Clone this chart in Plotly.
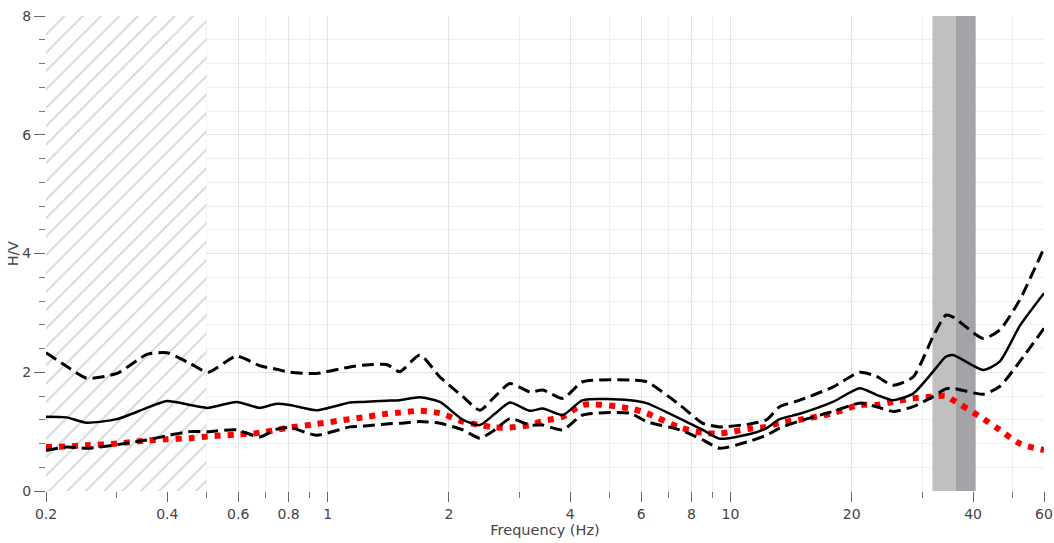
import plotly.graph_objects as go

# ---- data ----
freq = [0.200, 0.225, 0.252, 0.300, 0.356, 0.399, 0.455, 0.505, 0.594, 0.679, 0.747, 0.806,
        0.939, 1.136, 1.224, 1.401, 1.511, 1.694, 1.900, 2.166, 2.387, 2.601, 2.835, 3.177,
        3.422, 3.836, 4.300, 5.626, 6.189, 7.485, 8.539, 9.41, 11.17, 12.29, 13.25, 14.86,
        17.94, 20.94, 23.03, 25.32, 28.39, 31.83, 34.22, 35.68, 42.35, 46.58, 52.24, 60.0]
hv_mean = [1.25, 1.24, 1.15, 1.21, 1.40, 1.515, 1.45, 1.40, 1.50, 1.40, 1.47, 1.45,
           1.36, 1.49, 1.50, 1.52, 1.53, 1.58, 1.50, 1.20, 1.11, 1.30, 1.49, 1.35,
           1.39, 1.28, 1.53, 1.53, 1.48, 1.22, 1.03, 0.88, 0.96, 1.06, 1.21, 1.30,
           1.50, 1.73, 1.62, 1.53, 1.64, 2.01, 2.26, 2.29, 2.04, 2.18, 2.78, 3.33]
hv_upper = [2.33, 2.10, 1.90, 1.98, 2.30, 2.33, 2.15, 2.00, 2.27, 2.11, 2.05, 2.00,
            1.98, 2.09, 2.12, 2.13, 2.01, 2.29, 1.92, 1.59, 1.36, 1.59, 1.81, 1.67,
            1.70, 1.56, 1.84, 1.87, 1.84, 1.45, 1.14, 1.08, 1.13, 1.20, 1.42, 1.53,
            1.75, 2.00, 1.93, 1.78, 1.92, 2.60, 2.96, 2.93, 2.57, 2.71, 3.22, 4.09]
hv_lower = [0.68, 0.74, 0.72, 0.78, 0.86, 0.93, 1.00, 1.00, 1.03, 0.91, 1.04, 1.07,
            0.94, 1.08, 1.09, 1.13, 1.14, 1.17, 1.14, 1.03, 0.89, 1.03, 1.22, 1.11,
            1.11, 1.03, 1.28, 1.31, 1.17, 1.03, 0.86, 0.72, 0.84, 0.94, 1.06, 1.18,
            1.34, 1.48, 1.42, 1.34, 1.42, 1.59, 1.72, 1.73, 1.63, 1.76, 2.18, 2.74]
hv_red = [0.74, 0.75, 0.77, 0.80, 0.85, 0.87, 0.89, 0.92, 0.95, 0.98, 1.03, 1.07,
          1.13, 1.21, 1.24, 1.30, 1.32, 1.35, 1.31, 1.17, 1.11, 1.07, 1.07, 1.11,
          1.18, 1.25, 1.45, 1.39, 1.31, 1.07, 0.98, 0.97, 1.05, 1.08, 1.15, 1.20,
          1.31, 1.45, 1.45, 1.50, 1.56, 1.59, 1.60, 1.53, 1.22, 1.03, 0.80, 0.69]

hatch_range = [0.2, 0.5]          # hatched (invalid) low-frequency band
peak_light = [31.7, 36.2]         # light gray band
peak_dark = [36.2, 40.6]          # dark gray band
y_span = [0, 8]

x_major = [0.2, 0.4, 0.6, 0.8, 1, 2, 4, 6, 8, 10, 20, 40, 60]
x_major_text = ["0.2", "0.4", "0.6", "0.8", "1", "2", "4", "6", "8", "10", "20", "40", "60"]
x_minor = [0.3, 0.5, 0.7, 0.9, 3, 5, 7, 9, 30, 50]
y_major = [0, 2, 4, 6, 8]

FONT = "DejaVu Sans"

fig = go.Figure()


def band(xr, **kw):
    return go.Scatter(x=[xr[0], xr[1], xr[1], xr[0], xr[0]],
                      y=[y_span[0], y_span[0], y_span[1], y_span[1], y_span[0]],
                      mode="lines", fill="toself", line=dict(width=0),
                      hoverinfo="skip", showlegend=False, **kw)


fig.add_trace(band(hatch_range, fillcolor="white",
                   fillpattern=dict(shape="/", fgcolor="#aaaaaa", bgcolor="white",
                                    size=13, solidity=0.14)))
fig.add_trace(band(peak_light, fillcolor="#c0c0c0"))
fig.add_trace(band(peak_dark, fillcolor="#a3a3a8"))

common = dict(mode="lines", showlegend=False, line_shape="spline")
fig.add_trace(go.Scatter(x=freq, y=hv_red, line=dict(color="#ff0000", width=6, dash="6px,7px",
                                                      smoothing=0.8), **common))
fig.add_trace(go.Scatter(x=freq, y=hv_upper, line=dict(color="black", width=3, dash="12px,6px",
                                                        smoothing=0.6), **common))
fig.add_trace(go.Scatter(x=freq, y=hv_lower, line=dict(color="black", width=3, dash="12px,6px",
                                                        smoothing=0.6), **common))
fig.add_trace(go.Scatter(x=freq, y=hv_mean, line=dict(color="black", width=2.5, smoothing=0.6),
                         **common))

fig.update_layout(
    width=1054, height=543,
    margin=dict(l=46, r=10, t=16, b=52),
    paper_bgcolor="white", plot_bgcolor="white",
    font=dict(family=FONT, size=14, color="#444"),
    xaxis=dict(
        type="log", range=[-0.69897, 1.778151], automargin=False,
        tickmode="array", tickvals=x_major, ticktext=x_major_text,
        ticks="outside", ticklen=10, tickcolor="#666", tickwidth=1,
        showgrid=True, gridcolor="#e6e6e6", gridwidth=1,
        zeroline=False, showline=False,
        minor=dict(tickmode="array", tickvals=x_minor, ticks="outside", ticklen=6,
                   tickcolor="#777", showgrid=True, gridcolor="#eeeeee"),
        title=dict(text="Frequency (Hz)", standoff=4, font=dict(size=14.5, color="#444")),
        tickfont=dict(size=14, color="#444"),
    ),
    yaxis=dict(
        range=y_span, tickmode="array", tickvals=y_major, automargin=False,
        ticks="outside", ticklen=11, tickcolor="#666",
        showgrid=True, gridcolor="#e6e6e6",
        zeroline=False, showline=False,
        minor=dict(dtick=0.4, ticks="outside", ticklen=6, tickcolor="#777",
                   showgrid=True, gridcolor="#eeeeee"),
        title=dict(text="H/V", standoff=0, font=dict(size=14, color="#444")),
        tickfont=dict(size=14, color="#444"),
    ),
)

# remove the default page margin so the figure fills the window exactly
fig.write_html("out.html",
               config={"displayModeBar": False},
               post_script="document.body.style.margin='0';document.body.style.overflow='hidden';")
